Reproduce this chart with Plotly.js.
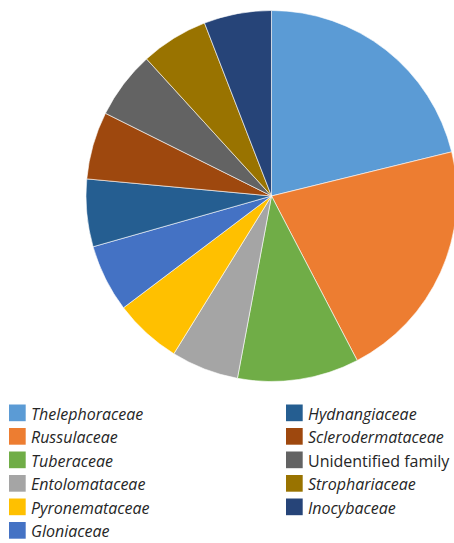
<!DOCTYPE html>
<html>
<head>
<meta charset="utf-8">
<script src="https://cdn.plot.ly/plotly-3.0.1.min.js"></script>
<style>
  html, body { margin: 0; padding: 0; overflow: hidden; background: #ffffff; }
  #chart { width: 460px; height: 543px; }
</style>
</head>
<body>
<div id="chart"></div>
<script>
// Fungal families and their share of the community
const families = [
  "Thelephoraceae", "Russulaceae", "Tuberaceae", "Entolomataceae",
  "Pyronemataceae", "Gloniaceae", "Hydnangiaceae", "Sclerodermataceae",
  "Unidentified family", "Strophariaceae", "Inocybaceae"
];
const counts = [18, 18, 9, 5, 5, 5, 5, 5, 5, 5, 5];
const sliceColors = [
  "#5B9BD5", "#ED7D31", "#70AD47", "#A5A5A5", "#FFC000", "#4472C4",
  "#255E91", "#9E480E", "#636363", "#997300", "#264478"
];
// Formal family names are set in italics; the unidentified group is not
const italicName = families.map(f => f !== "Unidentified family");

const W = 460, H = 543;
const px = x => x / W;
const py = y => 1 - y / H;

const pie = {
  type: "pie",
  labels: families,
  values: counts,
  sort: false,
  direction: "clockwise",
  rotation: 0,
  textinfo: "none",
  hoverinfo: "label+value+percent",
  showlegend: false,
  marker: { colors: sliceColors, line: { color: "#ffffff", width: 0.6 } },
  domain: { x: [px(86), px(457)], y: [py(381.5), py(10.5)] }
};

// Two-column key beneath the pie: first six families on the left, the rest on the right
const shapes = [];
const annotations = [];
const rowsLeft = 6;
const sw = 16.7, pitch = 23.5, top0 = 404.5;
families.forEach((name, i) => {
  const col = i < rowsLeft ? 0 : 1;
  const row = col === 0 ? i : i - rowsLeft;
  const x0 = col === 0 ? 9 : 286;
  const y0 = top0 + row * pitch;
  shapes.push({
    type: "rect", xref: "paper", yref: "paper",
    x0: px(x0), x1: px(x0 + sw), y0: py(y0 + sw), y1: py(y0),
    fillcolor: sliceColors[i], line: { width: 0 }
  });
  annotations.push({
    xref: "paper", yref: "paper",
    x: px(x0 + sw + 4), y: py(y0 + sw / 2 + 1),
    xanchor: "left", yanchor: "middle",
    showarrow: false, borderpad: 0,
    text: italicName[i] ? "<i>" + name + "</i>" : name,
    font: { family: "Open Sans, sans-serif", size: 16, color: "#262626" }
  });
});

const layout = {
  width: W, height: H,
  margin: { l: 0, r: 0, t: 0, b: 0 },
  paper_bgcolor: "#ffffff",
  plot_bgcolor: "#ffffff",
  shapes: shapes,
  annotations: annotations
};

Plotly.newPlot("chart", [pie], layout, { displayModeBar: false, staticPlot: true });
</script>
</body>
</html>
